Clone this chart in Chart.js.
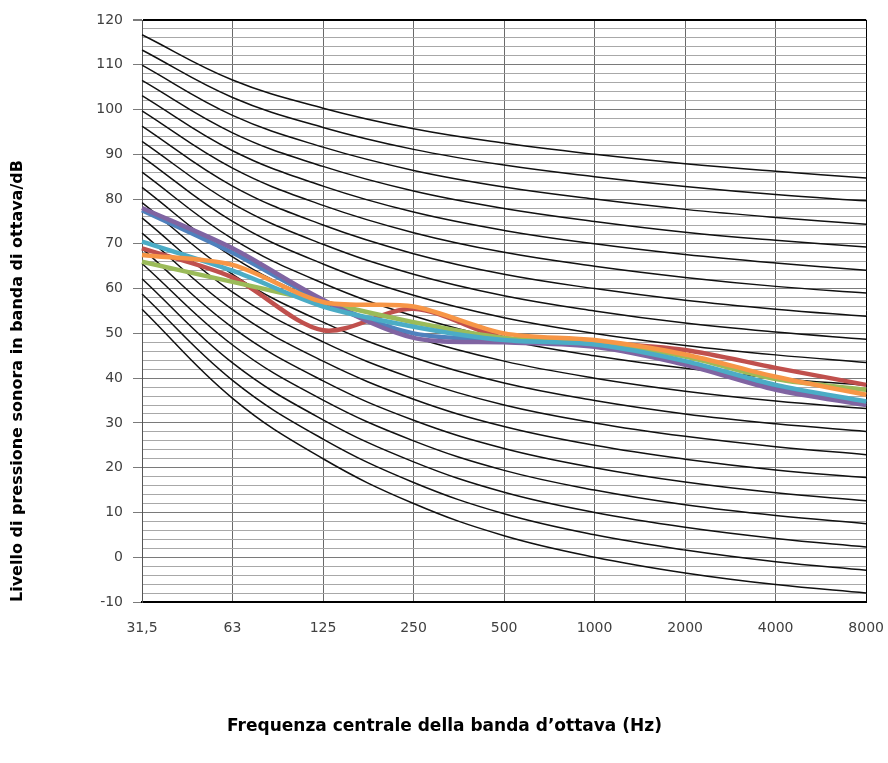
<!DOCTYPE html>
<html>
<head>
<meta charset="utf-8">
<title>Curve NR</title>
<script src="https://cdn.jsdelivr.net/npm/chart.js@4/dist/chart.umd.min.js"></script>
<style>
  html, body { margin: 0; padding: 0; background: #fff; }
  #wrap { width: 888px; height: 763px; position: relative; }
</style>
</head>
<body>
<div id="wrap"><canvas id="nrChart"></canvas></div>
<script>
// octave band centre frequencies
const frequencies = ['31,5', '63', '125', '250', '500', '1000', '2000', '4000', '8000'];

// NR curves (black)
const nr0  = [55.4, 35.5, 22.0, 12.0, 4.8, 0, -3.5, -6.1, -8.0];
const nr5  = [58.8, 39.5, 26.4, 16.7, 9.7, 5, 1.6, -1.0, -2.9];
const nr10 = [62.2, 43.4, 30.7, 21.3, 14.5, 10, 6.7, 4.2, 2.3];
const nr15 = [65.6, 47.4, 35.1, 26.0, 19.4, 15, 11.7, 9.3, 7.5];
const nr20 = [69.0, 51.3, 39.4, 30.6, 24.3, 20, 16.8, 14.4, 12.6];
const nr25 = [72.4, 55.3, 43.8, 35.3, 29.2, 25, 21.9, 19.5, 17.8];
const nr30 = [75.8, 59.2, 48.1, 39.9, 34.0, 30, 27.0, 24.7, 22.9];
const nr35 = [79.2, 63.2, 52.5, 44.6, 38.9, 35, 32.0, 29.8, 28.1];
const nr40 = [82.6, 67.1, 56.8, 49.2, 43.8, 40, 37.1, 34.9, 33.2];
const nr45 = [86.0, 71.1, 61.2, 53.9, 48.6, 45, 42.2, 40.0, 38.4];
const nr50 = [89.5, 75.0, 65.5, 58.5, 53.5, 50, 47.3, 45.2, 43.5];
const nr55 = [92.9, 79.0, 69.9, 63.2, 58.4, 55, 52.3, 50.3, 48.7];
const nr60 = [96.3, 82.9, 74.2, 67.8, 63.2, 60, 57.4, 55.4, 53.8];
const nr65 = [99.7, 86.9, 78.6, 72.5, 68.1, 65, 62.5, 60.5, 59.0];
const nr70 = [103.1, 90.8, 82.9, 77.1, 73.0, 70, 67.6, 65.7, 64.1];
const nr75 = [106.5, 94.8, 87.3, 81.8, 77.9, 75, 72.6, 70.8, 69.3];
const nr80 = [109.9, 98.7, 91.6, 86.4, 82.7, 80, 77.7, 75.9, 74.4];
const nr85 = [113.3, 102.7, 96.0, 91.1, 87.6, 85, 82.8, 81.0, 79.6];
const nr90 = [116.7, 106.6, 100.3, 95.7, 92.5, 90, 87.9, 86.2, 84.7];
const nrCurves = [nr0, nr5, nr10, nr15, nr20, nr25, nr30, nr35, nr40, nr45,
                  nr50, nr55, nr60, nr65, nr70, nr75, nr80, nr85, nr90];

// measured spectra (coloured)
const measBlue   = [77.5, 68.0, 57.3, 50.0, 48.5, 47.3, 43.6, 38.0, 34.5];
const measRed    = [69.0, 62.5, 50.7, 55.5, 49.0, 48.0, 46.3, 42.3, 38.5];
const measGreen  = [66.0, 61.5, 57.0, 52.5, 49.0, 48.0, 44.8, 39.8, 37.4];
const measPurple = [78.0, 69.0, 57.5, 49.0, 48.0, 47.0, 43.0, 37.4, 34.0];
const measTeal   = [70.5, 64.0, 56.0, 51.5, 48.5, 47.5, 43.8, 38.5, 34.8];
const measOrange = [67.5, 65.3, 57.0, 56.0, 50.0, 48.5, 45.3, 40.3, 36.3];

const measured = [
    { data: measBlue, color: '#4F81BD' },
    { data: measRed, color: '#C0504D' },
    { data: measGreen, color: '#9BBB59' },
    { data: measPurple, color: '#8064A2' },
    { data: measTeal, color: '#4BACC6' },
    { data: measOrange, color: '#F79646' }
];

const datasets = [];
nrCurves.forEach((curve, i) => {
    datasets.push({
        label: 'NR ' + (i * 5),
        data: curve,
        borderColor: '#111',
        borderWidth: 1.5,
        pointRadius: 0,
        tension: 0.4,
        fill: false,
        order: 20
    });
});
measured.forEach((m, i) => {
    datasets.push({
        label: 'Misura ' + (i + 1),
        data: m.data,
        borderColor: m.color,
        borderWidth: 4.5,
        pointRadius: 0,
        tension: 0.3,
        fill: false,
        order: 10 - i  // last series on top, like Excel
    });
});

const tickFont = { family: 'DejaVu Sans', size: 14 };

new Chart(document.getElementById('nrChart').getContext('2d'), {
    type: 'line',
    data: { labels: frequencies, datasets: datasets },
    options: {
        responsive: true,
        maintainAspectRatio: false,
        animation: false,
        devicePixelRatio: 1,
        layout: { padding: { left: 8, top: 20, right: 7, bottom: 0 } },
        plugins: {
            legend: { display: false },
            tooltip: { enabled: false },
            title: {
                display: true,
                position: 'bottom',
                text: 'Frequenza centrale della banda d\u2019ottava (Hz)',
                color: '#000',
                font: { family: 'DejaVu Sans', size: 17, weight: 'bold' },
                padding: { top: 0, bottom: 26 }
            }
        },
        scales: {
            x: {
                type: 'category',
                offset: false,
                afterFit: (scale) => { scale.height = 114.6; },
                grid: {
                    drawTicks: true,
                    tickLength: 14,
                    tickColor: 'rgba(0,0,0,0)',
                    lineWidth: 1,
                    color: (ctx) => (ctx.index === frequencies.length - 1 ? '#000' : '#6a6a6a')
                },
                border: { color: '#000', width: 2 },
                ticks: { color: '#404040', font: tickFont, padding: 4, maxRotation: 0, autoSkip: false }
            },
            y: {
                min: -10,
                max: 120,
                afterFit: (scale) => { scale.width = 134; },
                grid: {
                    tickLength: 9,
                    lineWidth: (ctx) => (ctx.tick && ctx.tick.value === 120 ? 2 : 1),
                    color: (ctx) => {
                        const v = ctx.tick.value;
                        if (v === 120) return '#000';
                        return v % 10 === 0 ? '#7a7a7a' : '#a8a8a8';
                    },
                    tickColor: (ctx) => (ctx.tick.value % 10 === 0 ? '#7a7a7a' : 'rgba(0,0,0,0)')
                },
                border: { color: '#555', width: 1 },
                ticks: {
                    stepSize: 2,
                    autoSkip: false,
                    color: '#404040',
                    font: tickFont,
                    padding: 10,
                    callback: (v) => (v % 10 === 0 ? v : '')
                },
                title: {
                    display: true,
                    text: 'Livello di pressione sonora in banda di ottava/dB',
                    align: 'start',
                    color: '#000',
                    font: { family: 'DejaVu Sans', size: 16, weight: 'bold' },
                    padding: 0
                }
            }
        }
    }
});
</script>
</body>
</html>
